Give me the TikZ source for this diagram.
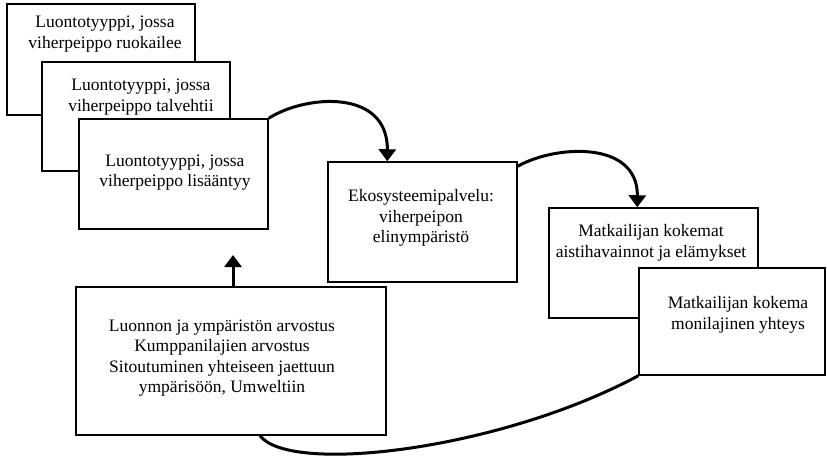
\documentclass[tikz,border=0pt]{standalone}
\usepackage{fontspec}
\setmainfont{Liberation Serif}
\usetikzlibrary{arrows.meta}
\begin{document}
\begin{tikzpicture}[x=1pt,y=-1pt,
  box/.style={draw, line width=1.5pt, fill=white, inner sep=0pt},
  txt/.style={align=center, font=\fontsize{17.5}{20.5}\selectfont, inner sep=0pt},
  flow/.style={line width=3pt, -{Triangle[length=12pt,width=17pt]}},
  link/.style={line width=3pt}]
\useasboundingbox (0,0) rectangle (827,458);

% stacked habitat boxes
\node[box, minimum width=188pt, minimum height=111pt] (b1) at (101,59.5) {};
\node[txt] (t1) at (105,34) {Luontotyyppi, jossa\\viherpeippo ruokailee};
\node[box, minimum width=188pt, minimum height=109pt] (b2) at (136,116.5) {};
\node[txt] (t2) at (141,97) {Luontotyyppi, jossa\\viherpeippo talvehtii};
\node[box, minimum width=189pt, minimum height=110pt] (b3) at (173.5,174) {};
\node[txt] (t3) at (175,172.5) {Luontotyyppi, jossa\\viherpeippo lisääntyy};

% ecosystem service
\node[box, minimum width=189pt, minimum height=120pt] (b4) at (422.5,222) {};
\node[txt] (t4) at (421,218) {Ekosysteemipalvelu:\\viherpeipon\\elinympäristö};

% tourist experience boxes
\node[box, minimum width=209pt, minimum height=110pt] (b5) at (653.5,263) {};
\node[txt] (t5) at (651,243) {Matkailijan kokemat\\aistihavainnot ja elämykset};
\node[box, minimum width=186pt, minimum height=107pt] (b6) at (732,321.5) {};
\node[txt] (t6) at (738,315) {Matkailijan kokema\\monilajinen yhteys};

% values box
\node[box, minimum width=310pt, minimum height=148pt] (b7) at (231,361) {};
\node[txt] (t7) at (222,358) {Luonnon ja ympäristön arvostus\\Kumppanilajien arvostus\\Sitoutuminen yhteiseen jaettuun\\ympärisöön, Umweltiin};

\coordinate (upTip) at (233,255);

% connectors
\draw[flow] (b3.north east) .. controls (305,95) and (388,88) .. ([xshift=60pt]b4.north west);
\draw[flow] ([yshift=-5pt]b4.north east) .. controls (555,145) and (638,140) .. ([xshift=89pt]b5.north west);
\draw[flow] ([xshift=2pt]b7.north) -- (upTip);
\draw[link] ([xshift=29pt]b7.south) .. controls (290,475) and (500,450) .. (b6.south west);
\end{tikzpicture}
\end{document}
